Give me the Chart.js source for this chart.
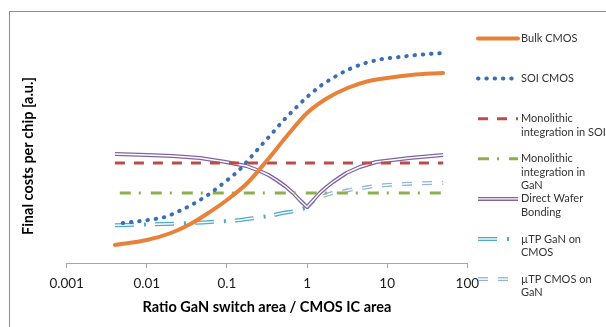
<!DOCTYPE html>
<html>
<head>
<meta charset="utf-8">
<script src="https://cdn.jsdelivr.net/npm/chart.js@4.4.1/dist/chart.umd.min.js"></script>
<style>
  html, body { margin: 0; padding: 0; background: #fff; }
</style>
</head>
<body>
<canvas id="costChart" width="606" height="327"></canvas>
<script>
// x axis ticks
var tickValues = [0.001, 0.01, 0.1, 1, 10, 100];
var tickLabels = ['0.001', '0.01', '0.1', '1', '10', '100'];

// series (x = ratio GaN switch area / CMOS IC area, y = cost a.u.)
var bulkX = [0.004, 0.01, 0.02, 0.035, 0.056, 0.1, 0.18, 0.32, 0.56, 1, 1.8, 3.2, 5.6, 10, 20, 50];
var bulkY = [1.8, 2.3, 3.0, 3.9, 4.9, 6.3, 8.0, 10.3, 12.7, 15.0, 16.5, 17.5, 18.15, 18.5, 18.8, 19.0];

var soiX = [0.005, 0.0104, 0.0168, 0.027, 0.042, 0.0625, 0.094, 0.138, 0.19, 0.257, 0.36, 0.5, 0.7, 1.0, 1.47, 2.2, 3.4, 5.4, 8.7, 14.3, 23, 50];
var soiY = [4.0, 4.3, 4.6, 5.3, 6.1, 7.0, 8.1, 9.2, 10.4, 11.6, 12.9, 14.2, 15.4, 16.6, 17.7, 18.6, 19.4, 20.0, 20.4, 20.6, 20.8, 21.0];

var monoSoiX = [0.004, 50];
var monoSoiY = [10.0, 10.0];

var monoGanX = [0.0046, 50];
var monoGanY = [7.0, 7.0];

var dwbX = [0.004, 0.01, 0.021, 0.046, 0.097, 0.175, 0.257, 0.33, 0.415, 0.53, 0.67, 0.81, 1.0, 1.2, 1.44, 1.75, 2.11, 2.6, 3.1, 4.54, 7.3, 11.8, 19, 50];
var dwbY = [10.9, 10.8, 10.7, 10.5, 10.1, 9.7, 9.2, 8.8, 8.3, 7.7, 7.0, 6.3, 5.6, 6.3, 7.0, 7.6, 8.1, 8.6, 9.0, 9.6, 10.1, 10.3, 10.5, 10.8];

var tpGanX = [0.004, 0.01, 0.021, 0.05, 0.1, 0.146, 0.257, 0.34, 0.48, 0.7, 1.0];
var tpGanY = [3.77, 3.85, 3.93, 4.05, 4.2, 4.3, 4.57, 4.7, 4.97, 5.2, 5.55];

var tpCmosX = [1.0, 1.25, 1.6, 2.1, 2.8, 3.9, 5.0, 7, 10, 16, 27, 50];
var tpCmosY = [5.55, 6.3, 6.7, 7.0, 7.15, 7.4, 7.5, 7.7, 7.8, 7.9, 7.97, 8.03];

var seriesNames = [
  ['Bulk CMOS'],
  ['SOI CMOS'],
  ['Monolithic', 'integration in SOI'],
  ['Monolithic', 'integration in', 'GaN'],
  ['Direct Wafer', 'Bonding'],
  ['\u00b5TP GaN on', 'CMOS'],
  ['\u00b5TP CMOS on', 'GaN']
];

var styles = [
  {color: '#E8823A', width: 4, dash: [], cap: 'round'},
  {color: '#3D6DB5', width: 4, dash: [0.5, 7.8], cap: 'round'},
  {color: '#BE4B48', width: 3, dash: [10, 9], cap: 'butt'},
  {color: '#8DB04F', width: 3, dash: [11, 8, 2, 10], cap: 'butt'},
  {color: '#8064A2', width: 4, dash: [], cap: 'butt', inner: 1.4},
  {color: '#4BACC6', width: 4, dash: [19, 10, 2, 9], innerDash: [19, 21], cap: 'butt', inner: 1.4},
  {color: '#95B3D7', width: 4, dash: [10, 10], cap: 'butt', inner: 1.4}
];

function pts(xs, ys) {
  return xs.map(function(x, i) { return {x: x, y: ys[i]}; });
}

var seriesData = [
  pts(bulkX, bulkY), pts(soiX, soiY), pts(monoSoiX, monoSoiY), pts(monoGanX, monoGanY),
  pts(dwbX, dwbY), pts(tpGanX, tpGanY), pts(tpCmosX, tpCmosY)
];
var drawOrder = [1, 2, 4, 5, 7, 9, 11];

var datasets = [];
seriesData.forEach(function(d, i) {
  var s = styles[i];
  datasets.push({
    label: seriesNames[i].join(' '),
    data: d,
    borderColor: s.color,
    borderWidth: s.width,
    borderDash: s.dash,
    borderCapStyle: s.cap,
    borderJoinStyle: 'round',
    cubicInterpolationMode: i === 4 ? 'default' : 'monotone',
    tension: i === 4 ? 0 : 0.4,
    pointRadius: 0,
    fill: false,
    order: drawOrder[i]
  });
  if (s.inner) {
    datasets.push({
      label: '',
      data: d,
      borderColor: '#ffffff',
      borderWidth: s.inner,
      borderDash: s.innerDash || s.dash,
      borderCapStyle: 'butt',
      borderJoinStyle: 'round',
      cubicInterpolationMode: i === 4 ? 'default' : 'monotone',
      tension: i === 4 ? 0 : 0.4,
      pointRadius: 0,
      fill: false,
      order: drawOrder[i] - 0.5
    });
  }
});

function strokeSample(ctx, x0, x1, y, s) {
  ctx.beginPath();
  ctx.setLineDash(s.dash);
  ctx.lineCap = s.cap;
  ctx.lineWidth = s.width;
  ctx.strokeStyle = s.color;
  ctx.moveTo(x0, y);
  ctx.lineTo(x1, y);
  ctx.stroke();
  if (s.inner) {
    ctx.beginPath();
    ctx.setLineDash(s.innerDash || s.dash);
    ctx.lineCap = 'butt';
    ctx.lineWidth = s.inner;
    ctx.strokeStyle = '#ffffff';
    ctx.moveTo(x0, y);
    ctx.lineTo(x1, y);
    ctx.stroke();
  }
}

var sideLegend = {
  id: 'sideLegend',
  afterDraw: function(chart) {
    var ctx = chart.ctx;
    ctx.save();
    for (var i = 0; i < seriesNames.length; i++) {
      var y = 38.5 + i * 40.1;
      strokeSample(ctx, 478, 518, y, styles[i]);
      ctx.setLineDash([]);
      ctx.fillStyle = '#333333';
      ctx.font = '11px Lato';
      ctx.textBaseline = 'middle';
      ctx.textAlign = 'left';
      for (var j = 0; j < seriesNames[i].length; j++) {
        ctx.fillText(seriesNames[i][j], 521, y + j * 13.5);
      }
    }
    ctx.restore();
  }
};

var frame = {
  id: 'frame',
  beforeDraw: function(chart) {
    var ctx = chart.ctx;
    ctx.save();
    ctx.strokeStyle = '#8c8c8c';
    ctx.lineWidth = 1;
    ctx.strokeRect(9.5, 11.5, 700, 400);
    ctx.restore();
  }
};

var ctx = document.getElementById('costChart').getContext('2d');
var costChart = new Chart(ctx, {
  type: 'line',
  data: {datasets: datasets},
  plugins: [frame, sideLegend],
  options: {
    responsive: false,
    animation: false,
    devicePixelRatio: 1,
    layout: {padding: {left: 20, right: 138.7, top: 49, bottom: 0}},
    plugins: {legend: {display: false}, tooltip: {enabled: false}},
    scales: {
      x: {
        type: 'logarithmic',
        min: 0.001,
        max: 100,
        afterBuildTicks: function(scale) {
          scale.ticks = tickValues.map(function(v) { return {value: v}; });
        },
        afterFit: function(scale) { scale.height = 64; },
        grid: {display: true, drawOnChartArea: false, drawTicks: true, tickLength: 5, color: '#a6a6a6'},
        border: {display: true, color: '#a6a6a6'},
        ticks: {
          autoSkip: false, maxRotation: 0, padding: 8, color: '#1a1a1a',
          font: {family: 'Lato', size: 13.5},
          callback: function(v, i) { return tickLabels[i]; }
        },
        title: {
          display: true, text: 'Ratio GaN switch area / CMOS IC area', color: '#000',
          font: {family: 'Lato', size: 14.5, weight: 'bold'}, padding: {top: 0, bottom: 11}
        }
      },
      y: {
        min: 0,
        max: 21.4,
        afterFit: function(scale) { scale.width = 46.7; },
        grid: {display: false},
        border: {display: false},
        ticks: {display: false},
        title: {
          display: true, text: 'Final costs per chip [a.u.]', color: '#000',
          font: {family: 'Lato', size: 14.5, weight: 'bold'}, padding: {top: 0, bottom: 0}
        }
      }
    }
  }
});
</script>
</body>
</html>
